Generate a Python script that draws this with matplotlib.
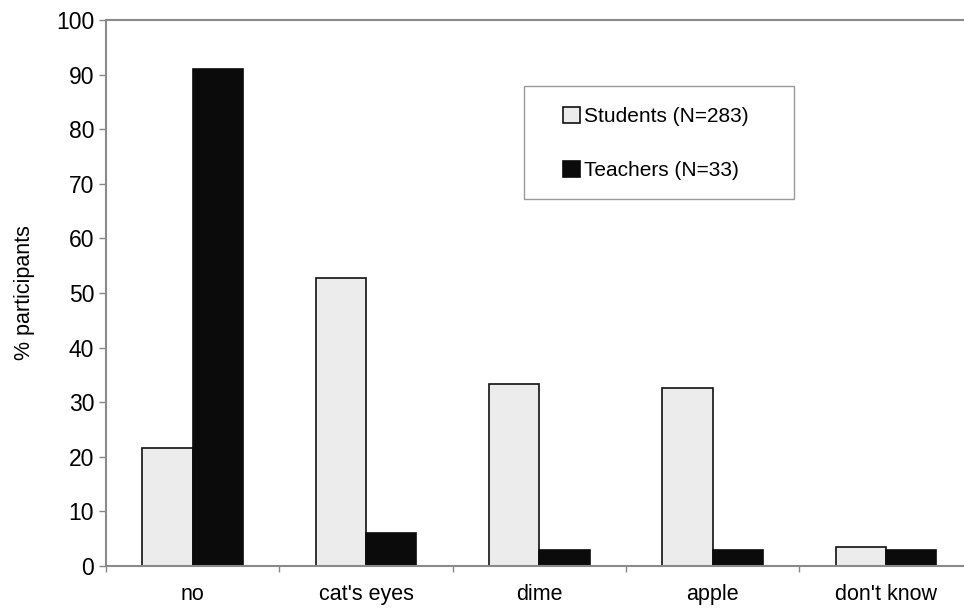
import numpy as np
import matplotlib
matplotlib.use("Agg")
import matplotlib.pyplot as plt
from matplotlib.patches import Rectangle

# 数据
categories = ["no", "cat's eyes", "dime", "apple", "don't know"]
students = [21.7, 52.8, 33.3, 32.7, 3.4]
teachers = [91.0, 6.1, 3.0, 3.0, 3.0]
series_labels = ["Students (N=283)", "Teachers (N=33)"]
yticks = list(range(0, 101, 10))

plt.rcParams["font.family"] = ["Liberation Sans", "DejaVu Sans"]

fig = plt.figure(figsize=(9.64, 6.08), dpi=100)
ax = fig.add_axes([0.110, 0.069, 0.899, 0.898])

x = np.arange(len(categories))
w = 0.29
ax.bar(x - w / 2, students, w, color="#ececec", edgecolor="#111111",
       linewidth=1.2, label=series_labels[0])
ax.bar(x + w / 2, teachers, w, color="#0b0b0b", edgecolor="#0b0b0b",
       linewidth=1.2, label=series_labels[1])

ax.set_xlim(-0.5, len(categories) - 0.5)
ax.set_ylim(0, 100)
ax.set_yticks(yticks)
ax.set_xticks(x)
ax.set_xticklabels(categories)
ax.set_xticks(np.arange(len(categories) + 1) - 0.5, minor=True)

ax.tick_params(axis="x", which="major", length=0, pad=13, labelsize=15.5)
ax.tick_params(axis="x", which="minor", length=4, color="#888888", width=1)
ax.tick_params(axis="y", length=5, color="#888888", width=1, pad=3.5,
               labelsize=16.5)

for side in ["left", "top", "bottom", "right"]:
    ax.spines[side].set_color("#8a8a8a")
    ax.spines[side].set_linewidth(1.5)

ax.set_ylabel("% participants", fontsize=15.5, labelpad=15)

# 图例：无边框，外框单独画
leg = ax.legend(loc="center", bbox_to_anchor=(0.6805, 0.764),
                bbox_transform=fig.transFigure, frameon=False,
                fontsize=15, labelspacing=1.64, borderpad=0,
                handlelength=0.8, handleheight=0.8, handletextpad=0.2)
fig.patches.append(Rectangle((524 / 964, 1 - 199 / 608), 270 / 964, 113 / 608,
                             transform=fig.transFigure, fill=False,
                             edgecolor="#999999", linewidth=1.0))

fig.savefig("out.png", dpi=100)
